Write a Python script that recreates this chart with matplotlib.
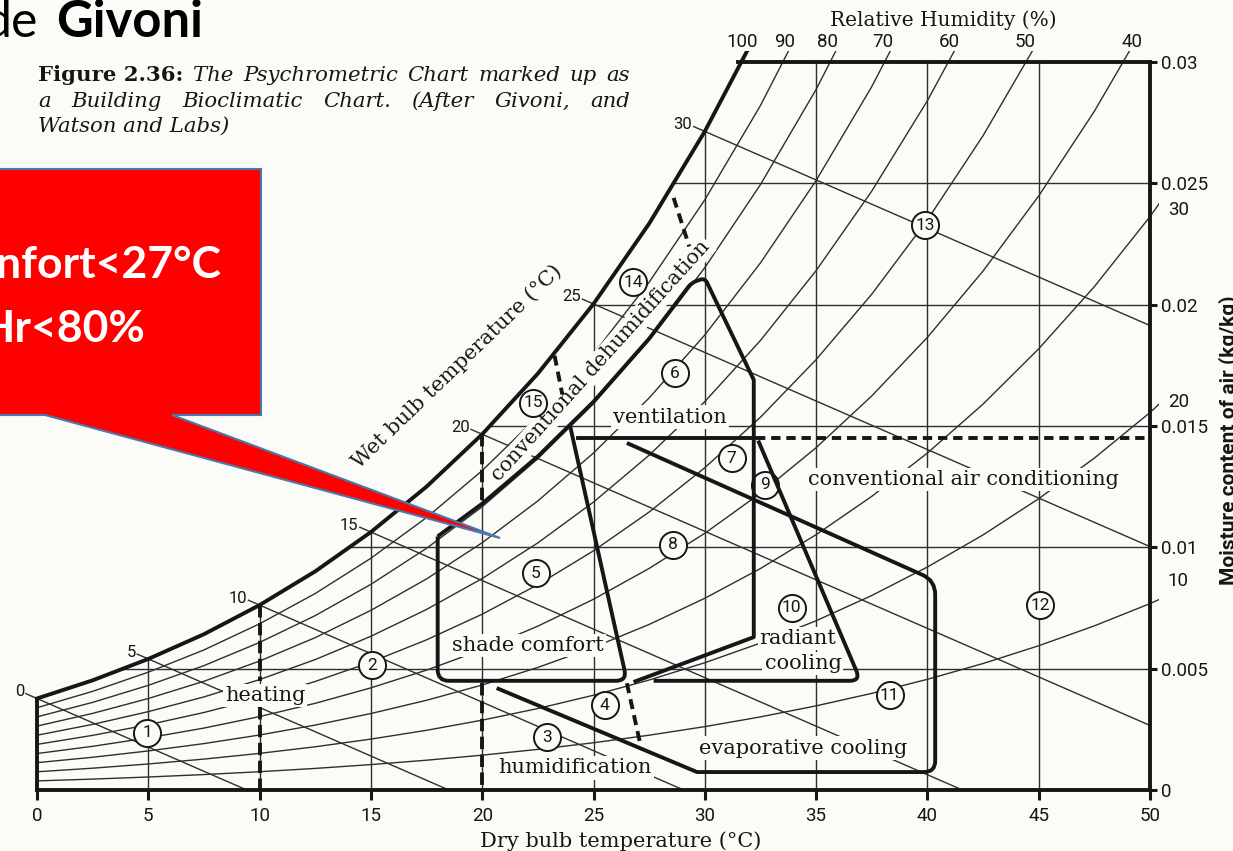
import numpy as np
import matplotlib
matplotlib.use('Agg')
import matplotlib.pyplot as plt
from matplotlib import font_manager
from matplotlib.patches import Polygon, PathPatch
from matplotlib.path import Path
from matplotlib.transforms import Bbox, TransformedBbox

# saturation moisture content (g/kg) along the dry bulb scale (deg C)
dry_bulb = [0, 2.5, 5, 7.5, 10, 12.5, 15, 17.5, 20, 22.5, 25, 27.5,
            30, 32.5, 35, 37.5, 40, 42.5, 45, 47.5, 50, 52.5]
saturation = [3.77, 4.52, 5.40, 6.42, 7.62, 9.01, 10.63, 12.50, 14.66, 17.16,
              20.03, 23.34, 27.14, 31.50, 36.51, 42.25, 48.83, 56.37, 65.04,
              74.98, 86.42, 99.63]

rh_levels = [90, 80, 70, 60, 50, 40, 30, 20, 10]
rh_top_labels = ['100', '90', '80', '70', '60', '50', '40']
rh_side_labels = ['30', '20', '10']
wet_bulb = [0, 5, 10, 15, 20, 25, 30]
wet_bulb_slope = 0.40      # g/kg lost per degree along a wet bulb line
grid_t = [5, 10, 15, 20, 25, 30, 35, 40, 45]
grid_w = [5, 10, 15, 20, 25]
x_ticks = [0, 5, 10, 15, 20, 25, 30, 35, 40, 45, 50]
y_ticks = [0, 0.005, 0.01, 0.015, 0.02, 0.025, 0.03]
y_labels = ['0', '0.005', '0.01', '0.015', '0.02', '0.025', '0.03']
top_start = 31.5

# zone outlines: dry bulb (deg C) and moisture (g/kg)
comfort_t = [18.0, 20.0, 22.5, 25.0, 27.5, 29.4, 30.0, 32.2, 32.2, 26.8]
comfort_w = [10.45, 11.8, 13.75, 16.0, 18.6, 20.9, 21.1, 16.9, 6.3, 4.45]
shade_t = [23.95, 26.5, 18.0, 18.0]
shade_w = [15.0, 4.5, 4.5, 10.45]
radiant_t = [32.4, 37.0, 27.7]
radiant_w = [14.4, 4.5, 4.5]
evap_t = [26.5, 40.35, 40.35, 29.65, 20.65]
evap_w = [14.3, 8.63, 0.74, 0.74, 4.2]
ac_t = [24.3, 32.2]
ac_dash_t = [32.3, 50.0]
ac_w = 14.5
heating_t = 10
heating_w = [[7.62, 4.5], [3.4, 0.0]]
humid_t = 20
humid_w = [[14.66, 11.85], [4.4, 0.0]]
dehum_t = [[23.25, 23.6], [28.6, 29.3]]
dehum_w = [[17.9, 16.3], [24.4, 22.4]]
zone4_t = [26.5, 27.1]
zone4_w = [4.4, 1.9]

zone_no = ['1', '2', '3', '4', '5', '6', '7', '8', '9', '10', '11', '12', '13', '14', '15']
zone_t = [4.94, 15.05, 22.9, 25.5, 22.4, 28.66, 31.2, 28.57, 32.7, 33.9, 38.3, 45.06, 39.9, 26.77, 22.28]
zone_w = [2.35, 5.15, 2.18, 3.5, 8.94, 17.18, 13.68, 10.1, 12.57, 7.5, 3.91, 7.62, 23.28, 20.93, 15.95]

installed = {f.name for f in font_manager.fontManager.ttflist}
narrow = 'Liberation Sans Narrow' if 'Liberation Sans Narrow' in installed else 'Roboto'
serif = 'DejaVu Serif'
bg = '#fbfbf8'
ink = '#161616'
thin_c = '#2e2e2e'
THICK = 2.8
THIN = 1.0


def kg(v):
    return np.asarray(v, dtype=float) / 1000.0


fig = plt.figure(figsize=(12.33, 8.51), dpi=100)
fig.patch.set_facecolor(bg)
ax = fig.add_axes([37 / 1233, 61 / 851, 1113 / 1233, 728 / 851])
ax.set_xlim(0, 50)
ax.set_ylim(0, 0.03)
ax.set_facecolor('none')

t = np.array(dry_bulb)
ws = np.array(saturation)

# region below the saturation curve, used to trim the thin lines
region = Polygon([(0, 0)] + list(zip(t, kg(ws))) + [(t[-1], 0)], closed=True,
                 transform=ax.transData)
box = TransformedBbox(Bbox([[-0.5, -0.001], [50.4, 0.03045]]), ax.transData)


def trimmed(line, inside=True):
    line.set_clip_box(box)
    if inside:
        line.set_clip_path(region)


# relative humidity curves
for rh in [100] + rh_levels:
    phi = rh / 100
    w = 622 * phi * ws / (622 + (1 - phi) * ws)
    ln, = ax.plot(t, kg(w), color=ink if rh == 100 else thin_c,
                  lw=THICK if rh == 100 else THIN, zorder=3 if rh == 100 else 1,
                  solid_joinstyle='round')
    trimmed(ln, inside=rh != 100)

# dry bulb and moisture grid
for g in grid_t:
    ln, = ax.plot([g, g], [0, 0.03], color=thin_c, lw=THIN, zorder=1)
    trimmed(ln)
for g in grid_w:
    ln, = ax.plot([0, 50], kg([g, g]), color=thin_c, lw=THIN, zorder=1)
    trimmed(ln)

# wet bulb lines, with a short tick beyond the saturation curve
for wb in wet_bulb:
    w0 = saturation[dry_bulb.index(wb)]
    t_end = min(50.0, wb + w0 / wet_bulb_slope)
    ax.plot([wb - 0.5, t_end],
            kg([w0 + 0.5 * wet_bulb_slope, w0 - wet_bulb_slope * (t_end - wb)]),
            color=thin_c, lw=THIN, zorder=1, clip_on=False)
    ax.annotate(str(wb), (wb, kg(w0)), xytext=(-9, 5), textcoords='offset points',
                ha='right', va='center', fontsize=12, family=narrow, color=ink)

# frame, ticks and axis labels
for side in ['left', 'top', 'bottom', 'right']:
    ax.spines[side].set_linewidth(THICK)
    ax.spines[side].set_color(ink)
ax.spines['left'].set_bounds(0, kg(saturation[0]))
ax.spines['top'].set_bounds(top_start, 50)
ax.set_xticks(x_ticks)
ax.set_xticklabels([str(v) for v in x_ticks])
ax.yaxis.tick_right()
ax.set_yticks(y_ticks)
ax.set_yticklabels(y_labels)
ax.tick_params(axis='x', direction='out', length=7, width=2.2, pad=5,
               labelsize=13.5, color=ink, labelcolor=ink)
ax.tick_params(axis='y', direction='out', length=5, width=2.2, pad=3,
               labelsize=13.5, color=ink, labelcolor=ink)
for lab in ax.get_xticklabels() + ax.get_yticklabels():
    lab.set_fontfamily(narrow)

ax.set_xlabel('Dry bulb temperature (°C)', family=serif, fontsize=15, color=ink)
ax.xaxis.set_label_coords(0.524, -0.057)
ax.yaxis.set_label_position('right')
ax.set_ylabel('Moisture content of air (kg/kg)', family=narrow, fontweight='bold',
              fontsize=15, color=ink, rotation=90)
ax.yaxis.set_label_coords(1.061, 0.48)

ax.text(40.7, kg(31.73), 'Relative Humidity (%)', family=serif, fontsize=14.5,
        ha='center', va='center', color=ink, clip_on=False)
for lab, x in zip(rh_top_labels, [31.7, 33.6, 35.5, 38.0, 41.0, 44.4, 49.2]):
    ax.text(x, kg(30.82), lab, family=narrow, fontsize=13.5, ha='center', va='center',
            color=ink, clip_on=False)
for lab, y in zip(rh_side_labels, [23.9, 16.0, 8.6]):
    ax.text(50.8, kg(y), lab, family=narrow, fontsize=13.5, ha='left', va='center',
            color=ink, clip_on=False)


# zone outlines
def rounded(ts, wv, radii):
    pts = ax.transData.transform(np.column_stack([ts, kg(wv)]))
    verts, codes = [pts[0]], [Path.MOVETO]
    for i in range(1, len(pts) - 1):
        r = radii[i]
        if r:
            a = pts[i] - pts[i - 1]
            b = pts[i + 1] - pts[i]
            verts += [pts[i] - a / np.hypot(*a) * r, pts[i], pts[i] + b / np.hypot(*b) * r]
            codes += [Path.LINETO, Path.CURVE3, Path.CURVE3]
        else:
            verts.append(pts[i])
            codes.append(Path.LINETO)
    verts.append(pts[-1])
    codes.append(Path.LINETO)
    return Path(ax.transData.inverted().transform(np.array(verts)), codes)


outlines = [(comfort_t, comfort_w, [0, 0, 0, 0, 0, 5, 5, 0, 0, 0]),
            (shade_t, shade_w, [0, 11, 11, 0]),
            (radiant_t, radiant_w, [0, 11, 0]),
            (evap_t, evap_w, [0, 14, 11, 0, 0])]
for ts, wv, radii in outlines:
    ax.add_patch(PathPatch(rounded(ts, wv, radii), fill=False, lw=THICK, ec=ink,
                           joinstyle='round', capstyle='butt', zorder=3, clip_on=False))

ax.plot(ac_t, kg([ac_w, ac_w]), color=ink, lw=THICK, zorder=3)
ax.plot(ac_dash_t, kg([ac_w, ac_w]), color=ink, lw=THICK, zorder=3,
        linestyle=(0, (2.4, 1.5)), clip_on=False)
for seg in heating_w:
    ax.plot([heating_t, heating_t], kg(seg), color=ink, lw=THICK, zorder=3,
            linestyle=(0, (3.2, 1.4)), clip_on=False)
for seg in humid_w:
    ax.plot([humid_t, humid_t], kg(seg), color=ink, lw=THICK, zorder=3,
            linestyle=(0, (3.2, 1.4)), clip_on=False)
for ts, wv in zip(dehum_t, dehum_w):
    ax.plot(ts, kg(wv), color=ink, lw=THICK, zorder=3, linestyle=(0, (2.6, 1.6)))
ax.plot(zone4_t, kg(zone4_w), color=ink, lw=THICK, zorder=3, linestyle=(0, (2.6, 1.6)))

# numbered zones
ax.scatter(zone_t, kg(zone_w), s=380, marker='o', facecolor=bg, edgecolor=ink,
           linewidths=1.4, zorder=2.5)
for lab, x, y in zip(zone_no, zone_t, zone_w):
    ax.text(x, kg(y), lab, family=narrow, fontsize=12.5, ha='center', va='center',
            color=ink, zorder=2.6)

# zone names
box_style = dict(facecolor=bg, edgecolor='none', pad=1.5)
names = [('heating', 10.24, 3.91), ('shade comfort', 22.06, 5.97),
         ('ventilation', 28.44, 15.37), ('conventional air conditioning', 41.6, 12.78),
         ('radiant', 34.19, 6.26), ('cooling', 34.41, 5.23),
         ('evaporative cooling', 34.41, 1.73), ('humidification', 24.17, 0.91)]
for txt, x, y in names:
    ax.text(x, kg(y), txt, family=serif, fontsize=15, ha='center', va='center',
            color=ink, bbox=box_style, zorder=2)
ax.text(25.34, kg(17.68), 'conventional dehumidification', family=serif, fontsize=14.8,
        rotation=48, ha='center', va='center', rotation_mode='anchor', color=ink,
        bbox=box_style, zorder=2)
ax.text(18.87, kg(17.47), 'Wet bulb temperature (°C)', family=serif, fontsize=15,
        rotation=44, ha='center', va='center', rotation_mode='anchor', color=ink)

# slide overlay: title, caption and callout
ov = fig.add_axes([0, 0, 1, 1], zorder=5)
ov.set_xlim(0, 1233)
ov.set_ylim(851, 0)
ov.axis('off')
renderer = fig.canvas.get_renderer()

ov.text(38, 37, 'de', family='Lato', fontsize=36, ha='right', va='baseline', color='black')
ov.text(56, 37, 'Givoni', family='Lato', fontweight='bold', fontsize=36.5, ha='left',
        va='baseline', color='black')


def justify(words, y, x0, x1, size):
    arts = [ov.text(0, y, wd, family=serif, fontsize=size, va='baseline', color=ink, **st)
            for wd, st in words]
    widths = [a.get_window_extent(renderer).width for a in arts]
    gap = (x1 - x0 - sum(widths)) / max(len(arts) - 1, 1)
    x = x0
    for a, wdt in zip(arts, widths):
        a.set_x(x)
        x += wdt + gap


it = {'style': 'italic'}
bold = {'fontweight': 'bold'}
justify([('Figure 2.36:', bold)] + [(wd, it) for wd in 'The Psychrometric Chart marked up as'.split()],
        81, 38, 630, 15.3)
justify([(wd, it) for wd in 'a Building Bioclimatic Chart. (After Givoni, and'.split()],
        107, 38, 630, 15.3)
ov.text(38, 132, 'Watson and Labs)', family=serif, style='italic', fontsize=15.3,
        va='baseline', color=ink)

callout = Polygon([(-5, 169), (261, 169), (261, 415), (172, 415), (500, 538),
                   (45, 415), (-5, 415)], closed=True, facecolor='#ff0000',
                  edgecolor='#4a78aa', lw=1.5)
ov.add_patch(callout)
ov.text(221, 278, 'Confort<27°C', family='Lato', fontweight='bold', fontsize=32,
        ha='right', va='baseline', color='white')
ov.text(145, 342, 'Hr<80%', family='Lato', fontweight='bold', fontsize=32,
        ha='right', va='baseline', color='white')

fig.savefig('out.png', dpi=100, facecolor=bg)
